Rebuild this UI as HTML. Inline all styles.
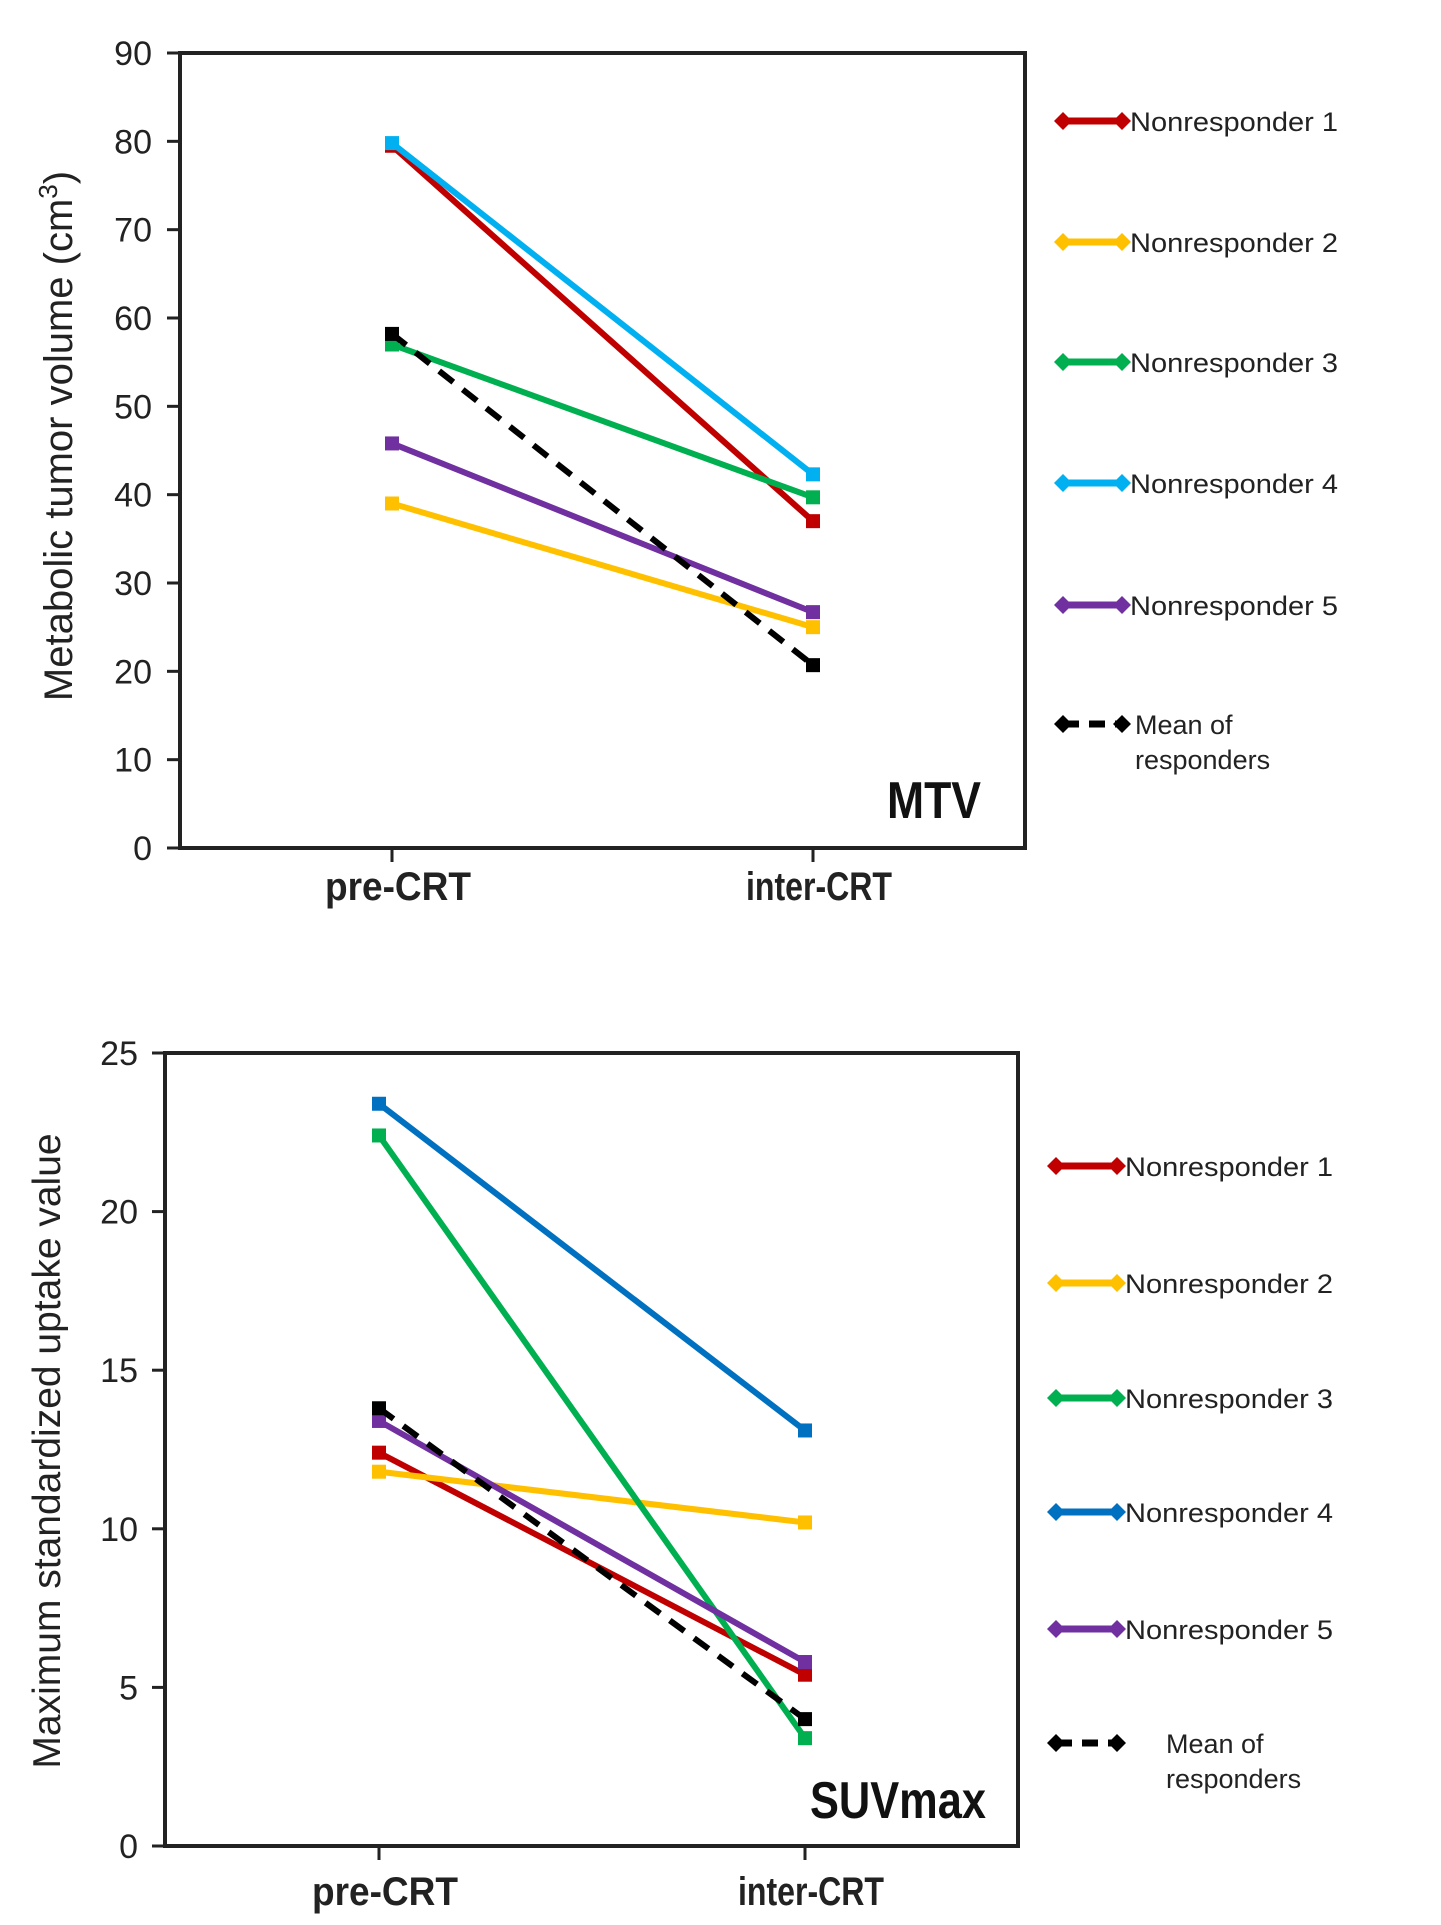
<!DOCTYPE html>
<html><head><meta charset="utf-8"><style>
html,body{margin:0;padding:0;background:#fff;}
svg{display:block;font-family:"Liberation Sans",Arial,sans-serif;}
</style></head><body>
<svg id="c" width="1441" height="1925" viewBox="0 0 1441 1925" xmlns="http://www.w3.org/2000/svg"></svg>
<script>
const categories = ["pre-CRT", "inter-CRT"];
const seriesNames = ["Nonresponder 1","Nonresponder 2","Nonresponder 3","Nonresponder 4","Nonresponder 5","Mean of responders"];
const mtvN1 = [79.5, 37.0];
const mtvN2 = [39.0, 25.0];
const mtvN3 = [57.0, 39.7];
const mtvN4 = [79.8, 42.3];
const mtvN5 = [45.8, 26.7];
const mtvMean = [58.2, 20.7];
const suvN1 = [12.4, 5.4];
const suvN2 = [11.8, 10.2];
const suvN3 = [22.4, 3.4];
const suvN4 = [23.4, 13.1];
const suvN5 = [13.4, 5.8];
const suvMean = [13.8, 4.0];
const mtvTicks = [0,10,20,30,40,50,60,70,80,90];
const suvTicks = [0,5,10,15,20,25];

const NS="http://www.w3.org/2000/svg";
const svg=document.getElementById('c');
function mk(tag,attrs,parent){const e=document.createElementNS(NS,tag);for(const k in attrs)e.setAttribute(k,attrs[k]);(parent||svg).appendChild(e);return e;}

function drawChart(cfg){
  const g=mk('g',{});
  
  
  const {L,R,T,B,px,ymax}=cfg;
  const ys=v=>B-(v/ymax)*(B-T);
  const xs=i=>px[i];
  const box=mk('rect',{x:L,y:T,width:R-L,height:B-T,fill:'none',stroke:'#222','stroke-width':4},g);
  
  
  cfg.ticks.forEach(t=>{
    const y=ys(t);
    mk('line',{x1:L-13,x2:L,y1:y,y2:y,stroke:'#222','stroke-width':3},g);
    const tx=mk('text',{x:cfg.tickX,y:y+12,'text-anchor':'end','font-size':34,fill:'#222'},g);
    tx.textContent=t;
    
    
  });
  categories.forEach((c,i)=>{
    mk('line',{x1:xs(i),x2:xs(i),y1:B,y2:B+14,stroke:'#222','stroke-width':3},g);
    const tx=mk('text',{x:xs(i)+6,y:cfg.xlabY,'text-anchor':'middle','font-size':40,'font-weight':'bold',fill:'#222',textLength:146,lengthAdjust:'spacingAndGlyphs'},g);
    tx.textContent=c;
    
    
  });
  const yt=mk('text',{x:0,y:0,'text-anchor':'middle','font-size':cfg.titleSize,fill:'#222',transform:`translate(${cfg.titleX},${cfg.titleY}) rotate(-90)`},g);
  yt.innerHTML=cfg.title;
  
  
  const lab=mk('text',{x:cfg.labX,y:cfg.labY,'font-size':52,'font-weight':'bold',fill:'#111',textLength:cfg.labW,lengthAdjust:'spacingAndGlyphs'},g);
  lab.textContent=cfg.label;
  
  
  cfg.series.forEach((s,k)=>{
    const dash=k===5;
    const line=mk('line',{x1:xs(0),y1:ys(s.v[0]),x2:xs(1),y2:ys(s.v[1]),stroke:s.c,'stroke-width':6,'stroke-dasharray':dash?'18,12':'none'},g);
    
    
    s.v.forEach((v,i)=>{
      const m=mk('rect',{x:xs(i)-7,y:ys(v)-7,width:14,height:14,fill:s.c},g);
      
      
    });
    const ly=cfg.legY[k];
    const lg=mk('g',{},g);
    
    
    mk('line',{x1:cfg.legX1,x2:cfg.legX2,y1:ly,y2:ly,stroke:s.c,'stroke-width':7,'stroke-dasharray':dash?'16,10':'none'},lg);
    [cfg.legX1,cfg.legX2].forEach(x=>mk('polygon',{points:`${x-9},${ly} ${x},${ly-9} ${x+9},${ly} ${x},${ly+9}`,fill:s.c},lg));
    if(!dash){
      const t=mk('text',{x:cfg.legX2+8,y:ly+10,'font-size':27,fill:'#222',textLength:208,lengthAdjust:'spacingAndGlyphs'},lg);
      t.textContent=seriesNames[k];
    } else {
      const t1=mk('text',{x:cfg.meanX,y:ly+10,'font-size':27,fill:'#222'},lg);
      t1.textContent='Mean of';
      const t2=mk('text',{x:cfg.meanX,y:ly+45,'font-size':27,fill:'#222'},lg);
      t2.textContent='responders';
    }
  });
}

drawChart({name:'mtv-chart',L:180,R:1025,T:53,B:848,px:[392,813],ymax:90,ticks:mtvTicks,tickX:152,xlabY:900,
  title:'Metabolic tumor volume (cm<tspan baseline-shift="super" font-size="26">3</tspan>)',titleSize:40,titleX:72,titleY:436,
  label:'MTV',labX:887,labY:818,labW:94,
  legX1:1063,legX2:1122,meanX:1135,legY:[121,242,362,483,605,724],
  series:[{v:mtvN1,c:'#c00000'},{v:mtvN2,c:'#ffc000'},{v:mtvN3,c:'#00b050'},{v:mtvN4,c:'#00b0f0'},{v:mtvN5,c:'#7030a0'},{v:mtvMean,c:'#000'}]});

drawChart({name:'suvmax-chart',L:165,R:1018,T:1053,B:1846,px:[379,805],ymax:25,ticks:suvTicks,tickX:138,xlabY:1905,
  title:'Maximum standardized uptake value',titleSize:39,titleX:60,titleY:1451,
  label:'SUVmax',labX:810,labY:1818,labW:176,
  legX1:1056,legX2:1117,meanX:1166,legY:[1166,1283,1398,1512,1629,1743],
  series:[{v:suvN1,c:'#c00000'},{v:suvN2,c:'#ffc000'},{v:suvN3,c:'#00b050'},{v:suvN4,c:'#0070c0'},{v:suvN5,c:'#7030a0'},{v:suvMean,c:'#000'}]});
</script>
</body></html>
